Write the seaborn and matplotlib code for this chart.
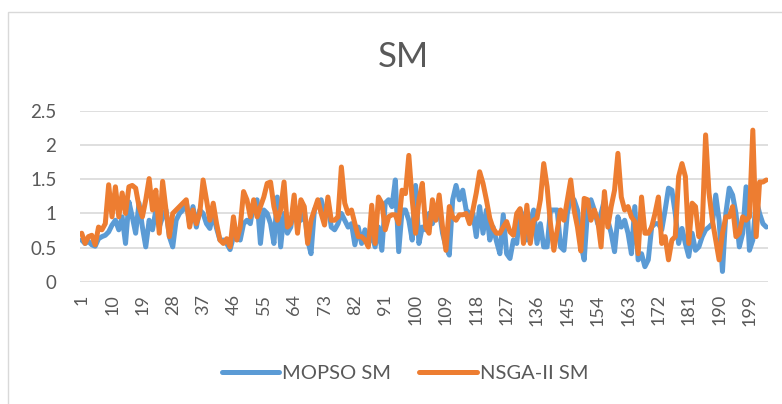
import numpy as np
import pandas as pd
import seaborn as sns
import matplotlib.pyplot as plt
from matplotlib.patches import Rectangle

title = "SM"
series_names = ["MOPSO SM", "NSGA-II SM"]
yticks = [0, 0.5, 1, 1.5, 2, 2.5]
ytick_labels = ["0", "0.5", "1", "1.5", "2", "2.5"]

mopso = [
    0.61, 0.56, 0.59, 0.54, 0.52, 0.63, 0.66, 0.68, 0.73, 0.83,
    0.90, 0.76, 0.95, 0.56, 1.17, 0.95, 0.71, 1.15, 0.80, 0.51,
    0.90, 0.76, 1.05, 0.80, 0.95, 1.05, 0.66, 0.51, 0.90, 1.00,
    1.05, 1.17, 0.85, 1.10, 0.80, 1.05, 1.00, 0.85, 0.78, 1.00,
    0.78, 0.61, 0.61, 0.56, 0.47, 0.66, 0.63, 0.61, 0.85, 0.90,
    0.85, 1.15, 1.20, 0.56, 1.05, 1.00, 0.85, 0.56, 1.24, 0.51,
    1.00, 0.71, 0.80, 1.15, 0.90, 0.90, 1.05, 0.61, 0.41, 1.05,
    1.15, 1.20, 1.00, 1.15, 0.80, 0.76, 0.85, 1.00, 0.90, 0.80,
    0.85, 0.54, 0.80, 0.56, 0.76, 0.56, 0.70, 0.51, 0.80, 0.46,
    1.15, 1.20, 1.10, 1.49, 0.44, 1.05, 1.05, 0.90, 0.61, 1.41,
    0.56, 0.80, 0.76, 1.00, 0.85, 1.00, 1.05, 0.71, 0.51, 0.39,
    1.20, 1.41, 1.20, 1.34, 1.05, 1.00, 1.00, 0.66, 1.10, 0.71,
    1.05, 0.61, 0.80, 0.59, 0.41, 0.98, 0.41, 0.34, 0.61, 0.56,
    1.05, 0.95, 0.61, 0.85, 1.05, 0.56, 0.85, 0.51, 0.51, 1.05,
    1.05, 1.05, 0.51, 0.46, 1.00, 1.24, 1.20, 1.05, 0.55, 0.32,
    1.05, 1.20, 1.05, 0.85, 1.00, 1.20, 0.90, 0.71, 0.44, 0.95,
    0.80, 0.90, 0.71, 0.41, 1.10, 0.32, 0.41, 0.22, 0.32, 0.80,
    0.85, 0.85, 0.76, 1.05, 1.37, 1.34, 1.00, 0.56, 0.78, 0.56,
    0.37, 0.71, 0.46, 0.51, 0.66, 0.76, 0.80, 0.85, 1.27, 0.90,
    0.15, 1.00, 1.37, 1.27, 1.00, 0.51, 0.71, 1.39, 0.46, 0.61,
    1.20, 1.00, 0.85, 0.80,
]

nsga = [
    0.71, 0.56, 0.66, 0.68, 0.54, 0.80, 0.76, 0.85, 1.42, 0.95,
    1.39, 0.95, 1.30, 1.00, 1.39, 1.41, 1.37, 1.10, 0.95, 1.20,
    1.51, 1.05, 1.34, 0.71, 1.47, 1.05, 0.66, 1.00, 1.05, 1.10,
    1.15, 1.20, 0.80, 1.05, 0.85, 1.00, 1.49, 1.20, 0.90, 1.15,
    0.85, 0.61, 0.56, 0.63, 0.51, 0.95, 0.61, 0.80, 1.32, 1.20,
    0.95, 1.20, 0.95, 1.10, 1.24, 1.44, 1.46, 1.10, 0.90, 1.05,
    1.46, 0.80, 0.85, 1.27, 0.71, 1.20, 1.10, 0.56, 0.90, 1.05,
    1.20, 1.00, 0.83, 1.24, 0.90, 0.90, 0.95, 1.68, 1.15, 1.00,
    1.05, 0.85, 0.66, 0.66, 0.61, 0.51, 1.12, 0.56, 1.24, 1.15,
    0.76, 0.95, 0.98, 0.98, 0.85, 1.34, 1.29, 1.85, 1.20, 0.71,
    1.20, 1.44, 0.80, 0.71, 1.20, 0.90, 1.27, 0.80, 0.46, 1.10,
    0.95, 0.90, 0.98, 0.98, 1.00, 0.85, 1.05, 1.30, 1.61, 1.44,
    1.20, 0.93, 0.78, 0.71, 0.71, 0.80, 0.88, 0.73, 0.68, 1.00,
    1.07, 0.56, 1.12, 0.56, 0.90, 0.93, 1.20, 1.73, 1.39, 0.85,
    0.46, 0.76, 1.05, 0.90, 1.20, 1.49, 1.05, 0.80, 0.45, 1.22,
    1.20, 0.90, 1.05, 0.90, 0.51, 1.32, 0.80, 1.10, 1.34, 1.88,
    1.24, 1.05, 1.10, 0.95, 0.88, 0.41, 1.24, 0.71, 0.71, 0.80,
    1.00, 1.24, 0.56, 0.66, 0.32, 0.61, 0.66, 1.54, 1.73, 1.54,
    0.56, 1.15, 1.10, 0.66, 0.80, 2.15, 1.30, 0.90, 0.61, 0.32,
    0.71, 0.95, 0.95, 1.10, 0.66, 0.71, 0.95, 0.90, 0.95, 2.22,
    0.66, 1.46, 1.46, 1.49,
]

n = len(mopso)
runs = list(range(1, n + 1))
df = pd.DataFrame({
    "run": runs + runs,
    "value": mopso + nsga,
    "series": [series_names[0]] * n + [series_names[1]] * n,
})

sns.set_theme(style="white")
plt.rcParams['font.family'] = ['Lato', 'DejaVu Sans']

W, H = 782, 404
fig = plt.figure(figsize=(W / 100, H / 100), dpi=100)
fig.patch.set_facecolor("white")

ax = fig.add_axes([80 / W, 1 - 281.7 / H, 688 / W, (281.7 - 111) / H])
sns.lineplot(data=df, x="run", y="value", hue="series",
             palette=["#5B9BD5", "#ED7D31"], linewidth=3.6, ax=ax,
             legend=True)
for ln in ax.lines:
    ln.set_solid_joinstyle("round")
    ln.set_solid_capstyle("round")

ax.set_xlim(0.5, n + 0.5)
ax.set_ylim(0, 2.5)
ax.set_yticks(yticks)
ax.set_yticklabels(ytick_labels)
xt = list(range(1, n + 1, 9))
ax.set_xticks(xt)
ax.set_xticklabels([str(v) for v in xt], rotation=90)
ax.tick_params(axis="x", length=0, labelsize=13, colors="#595959", pad=9)
ax.tick_params(axis="y", length=0, labelsize=13.5, colors="#595959", pad=17)
ax.set_xlabel("")
ax.set_ylabel("")
for s in ax.spines.values():
    s.set_visible(False)
ax.yaxis.grid(True, color="#d9d9d9", linewidth=1.2)
ax.xaxis.grid(False)
ax.set_axisbelow(True)

handles, labels = ax.get_legend_handles_labels()
ax.get_legend().remove()
for h in handles:
    h.set_linewidth(3.6)
    h.set_solid_capstyle("round")
fig.legend(handles, labels, loc="center", bbox_to_anchor=(405 / W, 1 - 373 / H),
           ncol=2, frameon=False, fontsize=14.5, handlelength=2.85,
           columnspacing=1.4, handletextpad=0.15, labelcolor="#595959")

fig.text(403 / W, 1 - 57 / H, title, ha="center", va="center",
         fontsize=25, color="#595959")

fig.patches.append(Rectangle((7.5 / W, -0.05), 1.2, 1 - 12 / H + 0.05,
                             transform=fig.transFigure, fill=False,
                             edgecolor="#d9d9d9", linewidth=1))

fig.savefig("out.png", dpi=100)
